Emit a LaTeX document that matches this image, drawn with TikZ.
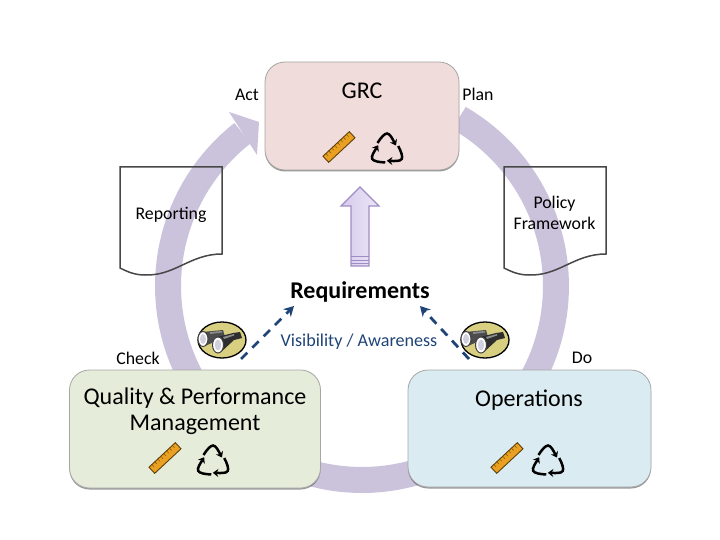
\documentclass[tikz,border=0pt]{standalone}
\usepackage{fontspec}
\setmainfont{Carlito}
\usetikzlibrary{shadows,arrows.meta,calc}
\definecolor{ringc}{HTML}{CBC3DC}
\definecolor{grcfill}{HTML}{F0DCDA}
\definecolor{qpmfill}{HTML}{E6ECDA}
\definecolor{opsfill}{HTML}{DAEBF1}
\definecolor{navy}{HTML}{1F4478}
\definecolor{rulerc}{HTML}{EAA020}
\definecolor{binoc}{HTML}{D8D080}
\definecolor{arrowedge}{HTML}{A08CC4}
\definecolor{arrowl}{HTML}{D6CBEC}
\definecolor{arrowr}{HTML}{ECE6F7}
\tikzset{
  box/.style={draw=black!35,line width=.8pt,rounded corners=20pt,inner sep=0pt,
    drop shadow={shadow xshift=0pt,shadow yshift=-1.5pt,fill=black,opacity=.4}},
  labelsmall/.style={inner sep=0pt,font=\fontsize{17.8}{21}\selectfont,align=center},
  labelbig/.style={inner sep=0pt,font=\fontsize{24}{25.5}\selectfont,align=center},
  docline/.style={draw=black!72,line width=1.5pt},
  seeline/.style={navy,line width=2.8pt,dash pattern=on 9pt off 7pt,-{Stealth[length=10pt,width=11pt]}},
  pics/ruler/.style={code={
    \draw[fill=rulerc,draw=black!60!rulerc,line width=.9pt] (-18,-4.2) rectangle (18,4.2);
    \foreach \t in {-14,-10,-6,-2,2,6,10,14} \draw[black!55!rulerc,line width=.4pt] (\t,-4.2) -- (\t,-1);
  }},
  pics/recyc/.style={code={
    \foreach \r in {0,120,240}{
      \draw[rotate=\r,black,line width=2.5pt,-{Stealth[length=5.5pt,width=8pt]}]
        (-9.5,-7.5) .. controls (-6,-13) and (-2.5,-17) .. (0,-17) .. controls (3,-17) and (5.5,-11.5) .. (9,-5);
    }
  }},
  pics/bino/.style={code={
    \draw[fill=binoc,draw=black,line width=1.3pt] (0,0) ellipse [x radius=24,y radius=18];
    \fill[black!70] (-20,-8) -- (1,-10) -- (3,-3) -- (-17,6) -- cycle;
    \fill[black!82] (-5,-3) -- (11,-7) -- (18,-8) -- (20,-2) -- (12,0) -- (-1,12) -- cycle;
    \fill[black!45] (-12,-8) -- (0,-9) -- (0,-7.5) -- (-12,-6) -- cycle;
    \fill[black!45] (1,-3) -- (12,-6) -- (12,-4.5) -- (2,-1) -- cycle;
    \draw[fill=white,draw=black!75,line width=1pt] (-19,-1) ellipse [x radius=5,y radius=7.5];
    \fill[blue!28!black!18] (-19,-1) ellipse [x radius=3,y radius=5];
    \draw[fill=white,draw=black!75,line width=1pt] (-4,5) ellipse [x radius=5.5,y radius=8];
    \fill[blue!28!black!18] (-4,5) ellipse [x radius=3.2,y radius=5.5];
  }},
}
\begin{document}
\begin{tikzpicture}[x=1pt,y=-1pt]
\useasboundingbox (0,0) rectangle (720,540);
% ring
\draw[ringc,line width=26pt] plot[domain=-60:232,samples=120] ({362+194*cos(\x)},{286+194*sin(\x)});
\fill[ringc] (229,112) -- (259,122) -- (257,155) -- cycle;
% documents
\draw[docline] (120,167) -- (222,167) -- (222,254) .. controls (190,254) and (175,276) .. (145,275) .. controls (135,275) and (128,272) .. (120,268) -- cycle;
\draw[docline] (504,167) -- (606,167) -- (606,254) .. controls (574,254) and (559,276) .. (529,275) .. controls (519,275) and (512,272) .. (504,268) -- cycle;
\node[labelsmall] (rep) at (171,215) {Reporting};
\node[labelsmall] (pol) at (554.5,213) {Policy\\Framework};
% boxes
\node[box,fill=grcfill,minimum width=194pt,minimum height=108pt] (grc) at (362,116) {};
\node[box,fill=qpmfill,minimum width=251pt,minimum height=118pt] (qpm) at (195,429) {};
\node[box,fill=opsfill,minimum width=243pt,minimum height=117pt] (ops) at (529.5,428.5) {};
\node[labelbig] (grct) at (362,91) {GRC};
\node[labelbig] (qpmt) at (195,411) {Quality \& Performance\\Management};
\node[labelbig] (opst) at (529,400) {Operations};
\pic at (339,147) [rotate=43] {ruler};
\pic at (387,150.5) {recyc};
\pic at (165,458) [rotate=43] {ruler};
\pic at (213,462.5) {recyc};
\pic at (507,458) [rotate=43] {ruler};
\pic at (548,462.5) {recyc};
% stage labels
\node[labelsmall] (act) at (247,95) {Act};
\node[labelsmall] (plan) at (478,94.5) {Plan};
\node[labelsmall] (chk) at (138,358) {Check};
\node[labelsmall] (dod) at (582,358) {Do};
% up arrow
\draw[draw=arrowedge,line width=1.1pt,left color=arrowl,right color=arrowr]
  (360,187) -- (379,206) -- (369,206) -- (369,266) -- (351,266) -- (351,206) -- (341,206) -- cycle;
\foreach \yy in {256,260,263} \draw[arrowedge,line width=.9pt] (351,\yy) -- (369,\yy);
% centre
\node[inner sep=0pt,font=\bfseries\fontsize{24}{28}\selectfont] (req) at (360,292) {Requirements};
\node[inner sep=0pt,text=navy,font=\fontsize{18.1}{22}\selectfont] (vis) at (359,342) {Visibility / Awareness};
\pic at (222,340) {bino};
\pic at (485,340) {bino};
\coordinate (lstart) at (241,359);
\coordinate (rstart) at (469,359);
\coordinate (lend) at (294,306);
\coordinate (rend) at (420,306);
\draw[seeline] (lstart) -- (lend);
\draw[seeline] (rstart) -- (rend);
\end{tikzpicture}
\end{document}
